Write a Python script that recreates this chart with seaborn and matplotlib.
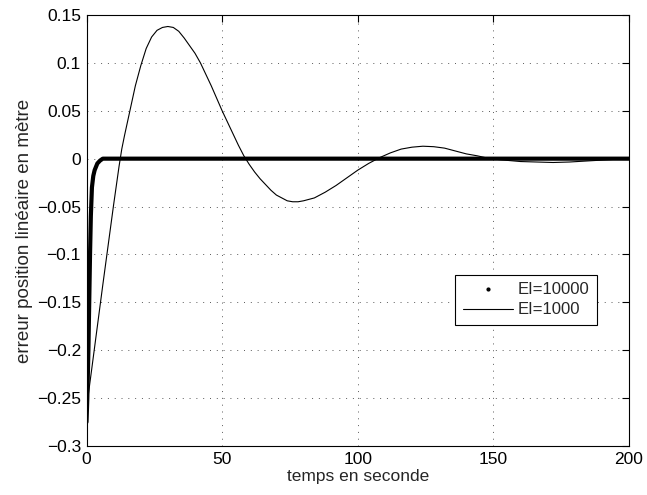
import numpy as np
import pandas as pd
import matplotlib
matplotlib.use("Agg")
import matplotlib.pyplot as plt
import seaborn as sns
from matplotlib.lines import Line2D
from matplotlib.ticker import FuncFormatter

# --- data ---
t_ei1000 = [0, 0.5, 2, 4, 6, 8, 10, 12, 13, 14, 16, 18, 20, 22, 24, 26, 28, 30,
            32, 34, 36, 38, 40, 42, 44, 46, 48, 50, 52, 54, 56, 58, 60, 62, 64,
            66, 68, 70, 72, 74, 76, 78, 80, 84, 88, 92, 96, 100, 104, 108, 112,
            116, 120, 124, 128, 132, 136, 140, 144, 148, 152, 156, 160, 166,
            172, 178, 184, 190, 196, 200]
y_ei1000 = [-0.27, -0.25, -0.218, -0.175, -0.132, -0.09, -0.048, -0.008, 0.01,
            0.024, 0.05, 0.076, 0.097, 0.115, 0.127, 0.134, 0.137, 0.138,
            0.137, 0.133, 0.126, 0.118, 0.110, 0.100, 0.088, 0.076, 0.063,
            0.050, 0.038, 0.026, 0.014, 0.003, -0.006, -0.014, -0.021, -0.027,
            -0.033, -0.038, -0.041, -0.044, -0.045, -0.045, -0.044, -0.041,
            -0.035, -0.028, -0.020, -0.012, -0.005, 0.001, 0.006, 0.010, 0.012,
            0.013, 0.0125, 0.011, 0.008, 0.005, 0.003, 0.0005, -0.001, -0.002,
            -0.003, -0.0035, -0.004, -0.0035, -0.0025, -0.0015, -0.0005, 0.0]

t_ei10000 = [0, 0.3, 0.7, 1.0, 1.3, 1.6, 2.0, 2.5, 3.0, 4.0, 5.0, 6.0, 10, 50,
             100, 150, 200]
y_ei10000 = [-0.275, -0.25, -0.2, -0.15, -0.1, -0.06, -0.03, -0.018, -0.012,
             -0.005, -0.002, 0.0, 0.0, 0.0, 0.0, 0.0, 0.0]

labels = ["EI=10000", "EI=1000"]
x_ticks = [0, 50, 100, 150, 200]
y_ticks = [-0.3, -0.25, -0.2, -0.15, -0.1, -0.05, 0, 0.05, 0.1, 0.15]

df1 = pd.DataFrame({"t": t_ei10000, "y": y_ei10000})
df2 = pd.DataFrame({"t": t_ei1000, "y": y_ei1000})

sns.set_style("white")
plt.rcParams["font.family"] = ["Liberation Sans", "DejaVu Sans"]
plt.rcParams["font.size"] = 12.5

fig = plt.figure(figsize=(6.47, 4.95), dpi=100)
ax = fig.add_axes([0.1337, 0.099, 0.8385, 0.8707])

sns.lineplot(data=df2, x="t", y="y", ax=ax, color="black", linewidth=0.8,
             estimator=None, sort=False)
sns.lineplot(data=df1, x="t", y="y", ax=ax, color="black", linewidth=3.0,
             estimator=None, sort=False)

ax.set_xlim(0, 200)
ax.set_ylim(-0.3, 0.15)
ax.set_xticks(x_ticks)
ax.set_yticks(y_ticks)
fmt = FuncFormatter(lambda v, p: ("%g" % round(v, 4)).replace("-", "\u2212"))
ax.xaxis.set_major_formatter(fmt)
ax.yaxis.set_major_formatter(fmt)
ax.tick_params(direction="in", length=5, width=0.8, top=True, right=True,
               labelsize=12.5, colors="black", pad=4)

ax.grid(True, color="0.35", linestyle=(0, (1, 6)), linewidth=0.7)
for s in ax.spines.values():
    s.set_visible(True)
    s.set_color("black")
    s.set_linewidth(0.8)

ax.set_xlabel("temps en seconde", fontsize=12.5, labelpad=2)
ax.set_ylabel("erreur position linéaire en mètre", fontsize=13.5, labelpad=3)

handles = [Line2D([], [], color="black", marker=".", markersize=4, linestyle="None"),
           Line2D([], [], color="black", linewidth=0.8)]
leg = ax.legend(handles, labels, loc="upper right", bbox_to_anchor=(0.941, 0.397),
                frameon=True, fancybox=False, edgecolor="black", framealpha=1,
                handlelength=3.0, handletextpad=0.3, borderpad=0.45,
                labelspacing=0.3, fontsize=12, borderaxespad=0)
leg.get_frame().set_linewidth(0.8)

fig.savefig("out.png", dpi=100)
